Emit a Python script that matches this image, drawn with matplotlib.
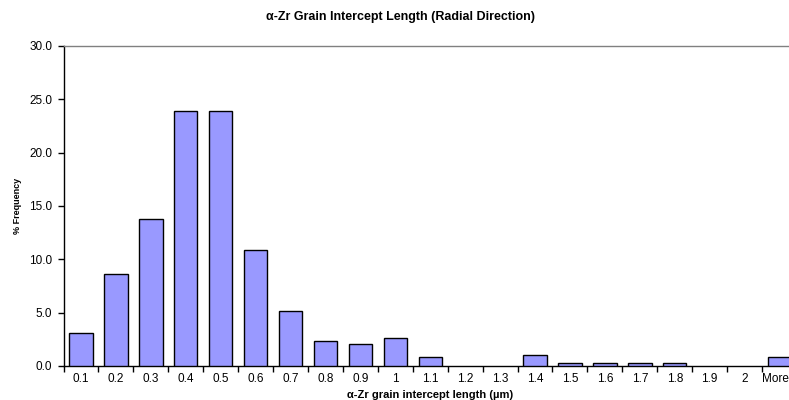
import numpy as np
import matplotlib.pyplot as plt
import matplotlib.transforms as mtransforms

plt.rcParams.update({
    "font.family": ["Liberation Sans", "DejaVu Sans"],
    "figure.facecolor": "white",
})

# -------------------------------------------------
# Data
# -------------------------------------------------
bins = ["0.1", "0.2", "0.3", "0.4", "0.5", "0.6", "0.7", "0.8", "0.9", "1",
        "1.1", "1.2", "1.3", "1.4", "1.5", "1.6", "1.7", "1.8", "1.9", "2", "More"]
freq = [3.1, 8.6, 13.8, 23.9, 23.9, 10.9, 5.2, 2.3, 2.1, 2.6,
        0.8, 0.0, 0.0, 1.0, 0.3, 0.3, 0.3, 0.3, 0.0, 0.0, 0.8]
yticks = [0, 5, 10, 15, 20, 25, 30]

bar_color = "#9999FF"

# -------------------------------------------------
# Figure
# -------------------------------------------------
W, H = 789, 400
fig = plt.figure(figsize=(W / 100, H / 100), dpi=100)
# plot area runs a little past the right edge, as in the original
left, right, top, bottom = 63.5, 797, 46, 366
ax = fig.add_axes([left / W, 1 - bottom / H, (right - left) / W, (bottom - top) / H])

x = np.arange(len(bins))
freq = np.array(freq)
# empty bins get no outline
lw = np.where(freq > 0, 1.0, 0.0)
ax.bar(x, freq, width=0.67, color=bar_color, edgecolor="black", linewidth=lw, zorder=3)

ax.set_xlim(-0.5, len(bins) - 0.5)
ax.set_ylim(0, 30)

# ticks at category boundaries, labels centred
ax.set_xticks(np.arange(len(bins) + 1) - 0.5)
ax.set_xticklabels([])
ax.set_xticks(x, minor=True)
labels = ax.set_xticklabels(bins, minor=True, fontsize=8.5)
ax.tick_params(axis="x", which="major", direction="out", length=4, width=1)
ax.tick_params(axis="x", which="minor", length=0, pad=5)

# nudge the last label so it stays inside the image
shift = mtransforms.ScaledTranslation(-3 / 72, 0, fig.dpi_scale_trans)
labels[-1].set_transform(labels[-1].get_transform() + shift)

ax.set_yticks(yticks)
ax.set_yticklabels([f"{v:.1f}" for v in yticks], fontsize=8.5)
ax.tick_params(axis="y", direction="out", length=4, width=1, pad=4)

ax.spines["left"].set_linewidth(1)
ax.spines["bottom"].set_linewidth(1)
ax.spines["top"].set_color("#808080")
ax.spines["top"].set_linewidth(1)
ax.spines["right"].set_visible(False)

fig.text(401 / W, 1 - 17 / H, "\u03b1-Zr Grain Intercept Length (Radial Direction)",
         ha="center", va="center", fontsize=9, fontweight="bold")
fig.text(430 / W, 1 - 395 / H, "\u03b1-Zr grain intercept length (\u00b5m)",
         ha="center", va="center", fontsize=8, fontweight="bold")
fig.text(17 / W, 1 - 206 / H, "% Frequency", rotation=90,
         ha="center", va="center", fontsize=6.5, fontweight="bold")

fig.savefig("out.png", dpi=100)
